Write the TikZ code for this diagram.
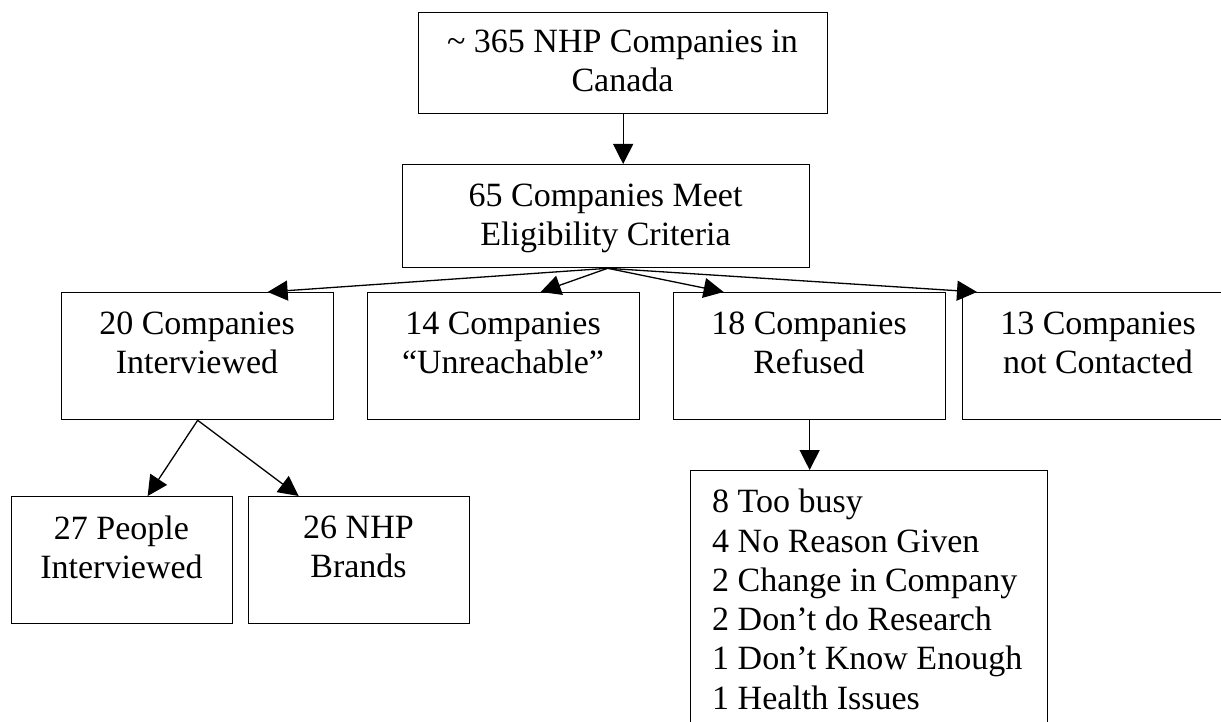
\documentclass[tikz,border=0pt]{standalone}
\usepackage{fontspec}
\setmainfont{Liberation Serif}
\usetikzlibrary{arrows.meta}
\tikzset{
  box/.style={draw=black, line width=1.3pt, rectangle, inner sep=0pt, anchor=north west},
  lbl/.style={inner sep=0pt, anchor=north, align=center, font=\fontsize{34}{38.5}\selectfont},
  arr/.style={line width=1.3pt, -{Triangle[length=20pt,width=20pt]}}
}
\begin{document}
\begin{tikzpicture}[x=1pt,y=-1pt]
\useasboundingbox (0,0) rectangle (1221,722);
\clip (0,0) rectangle (1221,722);
% boxes
\node[box, minimum width=409pt, minimum height=101pt] (top) at (418,12) {};
\node[box, minimum width=407pt, minimum height=103pt] (elig) at (402,164) {};
\node[box, minimum width=272pt, minimum height=127pt] (b1) at (61,292) {};
\node[box, minimum width=272pt, minimum height=127pt] (b2) at (367,292) {};
\node[box, minimum width=272pt, minimum height=127pt] (b3) at (673,292) {};
\node[box, minimum width=272pt, minimum height=127pt] (b4) at (962,292) {};
\node[box, minimum width=221pt, minimum height=127pt] (b5) at (11,496) {};
\node[box, minimum width=221pt, minimum height=127pt] (b6) at (248,496) {};
\node[box, minimum width=357pt, minimum height=280pt] (rs) at (690,470) {};
% texts
\node[lbl] (ttop) at (622.5,30) {\char"007E{} 365 NHP Companies in\\Canada};
\node[lbl] (telig) at (605.5,184) {65 Companies Meet\\Eligibility Criteria};
\node[lbl] (tb1) at (197,312) {20 Companies\\Interviewed};
\node[lbl] (tb2) at (503,312) {14 Companies\\“Unreachable”};
\node[lbl] (tb3) at (809,312) {18 Companies\\Refused};
\node[lbl] (tb4) at (1098,312) {13 Companies\\not Contacted};
\node[lbl] (tb5) at (121.5,516) {27 People\\Interviewed};
\node[lbl] (tb6) at (358.5,516) {26 NHP\\Brands};
\node[lbl, anchor=north west, align=left, font=\fontsize{34}{39.3}\selectfont] (trs) at (712,489)
  {8 Too busy\\4 No Reason Given\\2 Change in Company\\2 Don’t do Research\\1 Don’t Know Enough\\1 Health Issues};
% connectors
\draw[arr] (top.south) -- (top.south |- elig.north);
\draw[arr] ([xshift=1.5pt]elig.south) -- ([xshift=70pt]b1.north);
\draw[arr] ([xshift=1.5pt]elig.south) -- ([xshift=37pt]b2.north);
\draw[arr] ([xshift=1.5pt]elig.south) -- ([xshift=-86pt]b3.north);
\draw[arr] ([xshift=1.5pt]elig.south) -- ([xshift=15pt]b4.north west);
\draw[arr] (b1.south) -- ([xshift=25.5pt]b5.north);
\draw[arr] (b1.south) -- ([xshift=-60.5pt]b6.north);
\draw[arr] (b3.south) -- (b3.south |- rs.north);
\end{tikzpicture}
\end{document}
